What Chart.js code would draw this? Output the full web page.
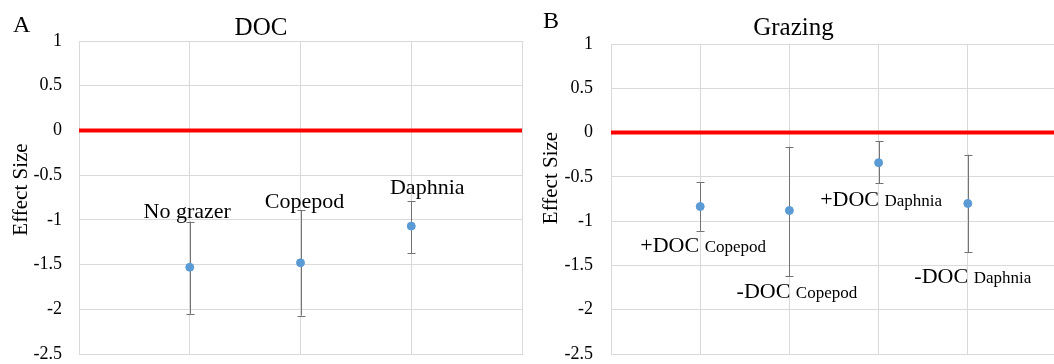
<!DOCTYPE html>
<html>
<head>
<meta charset="utf-8">
<script src="https://cdn.jsdelivr.net/npm/chart.js@4.4.0/dist/chart.umd.min.js"></script>
<style>
    html, body { margin: 0; padding: 0; background: #fff; overflow: hidden; }
    #wrap { display: flex; width: 1054px; height: 364px; overflow: hidden; }
    #panelA { width: 530px; height: 364px; flex: none; }
    #panelB { width: 527px; height: 364px; flex: none; }
</style>
</head>
<body>
<div id="wrap">
    <div id="panelA"><canvas id="docChart"></canvas></div>
    <div id="panelB"><canvas id="grazingChart"></canvas></div>
</div>
<script>
// Panel A - DOC
const docCategories = ['No grazer', 'Copepod', 'Daphnia'];
const docEffect = [-1.53, -1.48, -1.07];
const docUpper = [-1.02, -0.89, -0.79];
const docLower = [-2.05, -2.07, -1.37];

// Panel B - Grazing
const grazingTreatments = ['+DOC', '-DOC', '+DOC', '-DOC'];
const grazingGrazers = ['Copepod', 'Copepod', 'Daphnia', 'Daphnia'];
const grazingEffect = [-0.835, -0.88, -0.34, -0.80];
const grazingUpper = [-0.56, -0.16, -0.10, -0.25];
const grazingLower = [-1.11, -1.62, -0.57, -1.35];

const yMin = -2.5;
const yMax = 1;
const yStep = 0.5;
const yTitle = 'Effect Size';

const SERIF = '"Liberation Serif"';
const GRID = '#d9d9d9';
const DOT = '#5b9bd5';
const BAR = '#737373';

// label placement (pixels, relative to the point x and the whisker end)
const docLabelPos = [
    { dx: -2.5, dy: -4, end: 'upper' },
    { dx: 4, dy: -2, end: 'upper' },
    { dx: 16, dy: -7, end: 'upper' },
];
const grazingLabelPos = [
    { dx: 3, dy: 21, end: 'lower' },
    { dx: 7.5, dy: 22, end: 'lower' },
    { dx: 2.5, dy: 23, end: 'lower' },
    { dx: 5, dy: 31, end: 'lower' },
];

const errorBarPlugin = {
    id: 'errorBars',
    beforeDatasetsDraw(chart, args, opts) {
        const { ctx, scales: { x, y } } = chart;
        ctx.save();
        ctx.strokeStyle = BAR;
        ctx.lineWidth = 1;
        opts.upper.forEach((up, i) => {
            const px = Math.round(x.getPixelForValue(i + 1)) + 0.5;
            const yTop = y.getPixelForValue(up);
            const yBot = y.getPixelForValue(opts.lower[i]);
            ctx.beginPath();
            ctx.moveTo(px, yTop);
            ctx.lineTo(px, yBot);
            ctx.moveTo(px - 4, Math.round(yTop) + 0.5);
            ctx.lineTo(px + 4, Math.round(yTop) + 0.5);
            ctx.moveTo(px - 4, Math.round(yBot) + 0.5);
            ctx.lineTo(px + 4, Math.round(yBot) + 0.5);
            ctx.stroke();
        });
        ctx.restore();
    },
    afterDatasetsDraw(chart, args, opts) {
        const { ctx, scales: { x, y } } = chart;
        ctx.save();
        ctx.fillStyle = '#000';
        ctx.textBaseline = 'alphabetic';
        ctx.textAlign = 'left';
        opts.labels.forEach((parts, i) => {
            const pos = opts.labelPos[i];
            const anchorY = y.getPixelForValue(pos.end === 'upper' ? opts.upper[i] : opts.lower[i]);
            let width = 0;
            parts.forEach(p => {
                ctx.font = p.size + 'px ' + SERIF;
                width += ctx.measureText(p.text).width;
            });
            let cx = x.getPixelForValue(i + 1) + pos.dx - width / 2;
            parts.forEach(p => {
                ctx.font = p.size + 'px ' + SERIF;
                ctx.fillText(p.text, cx, anchorY + pos.dy);
                cx += ctx.measureText(p.text).width;
            });
        });

        // panel letter
        ctx.font = '24px ' + SERIF;
        ctx.fillText(opts.letter, 13, opts.letterY);

        // y axis title (sits a bit above the axis middle in the original)
        ctx.font = '21px ' + SERIF;
        ctx.textAlign = 'center';
        ctx.translate(27, opts.yTitleY);
        ctx.rotate(-Math.PI / 2);
        ctx.fillText(yTitle, 0, 0);
        ctx.restore();
    }
};

function makeChart(canvasId, cfg) {
    const points = cfg.effect.map((v, i) => ({ x: i + 1, y: v }));
    const xMax = cfg.effect.length + 1;
    return new Chart(document.getElementById(canvasId).getContext('2d'), {
        type: 'scatter',
        data: {
            datasets: [
                {
                    type: 'line',
                    data: [{ x: 0, y: 0 }, { x: xMax, y: 0 }],
                    borderColor: '#ff0000',
                    borderWidth: 4,
                    pointRadius: 0,
                    order: 2,
                },
                {
                    data: points,
                    backgroundColor: DOT,
                    borderColor: DOT,
                    pointRadius: 4,
                    order: 1,
                }
            ]
        },
        options: {
            responsive: true,
            maintainAspectRatio: false,
            animation: false,
            events: [],
            layout: { autoPadding: false, padding: { top: 0, left: 0, right: cfg.padRight, bottom: 10 } },
            plugins: {
                legend: { display: false },
                tooltip: { enabled: false },
                title: {
                    display: true,
                    text: cfg.title,
                    color: '#000',
                    font: { family: SERIF, size: 25, weight: 'normal' },
                    padding: { top: 13, bottom: cfg.titleGap },
                },
                errorBars: {
                    upper: cfg.upper,
                    lower: cfg.lower,
                    labels: cfg.labels,
                    labelPos: cfg.labelPos,
                    letter: cfg.letter,
                    letterY: cfg.letterY,
                    yTitleY: cfg.yTitleY,
                }
            },
            scales: {
                x: {
                    type: 'linear',
                    min: 0,
                    max: xMax,
                    ticks: { display: false, stepSize: 1 },
                    grid: { color: GRID, drawTicks: false },
                    border: { color: GRID },
                    afterFit: s => { s.height = 0; },
                },
                y: {
                    min: yMin,
                    max: yMax,
                    ticks: {
                        stepSize: yStep,
                        color: '#000',
                        padding: cfg.tickPad,
                        font: { family: SERIF, size: 18 },
                        callback: v => String(v),
                    },
                    grid: { color: GRID, drawTicks: false },
                    border: { color: GRID },
                    afterFit: s => {
                        s.width = cfg.axisWidth;
                        s.paddingTop = 0;
                        s.paddingBottom = 0;
                    },
                }
            }
        },
        plugins: [errorBarPlugin]
    });
}

makeChart('docChart', {
    title: 'DOC',
    letter: 'A',
    letterY: 32,
    yTitleY: 189.5,
    effect: docEffect,
    upper: docUpper,
    lower: docLower,
    labels: docCategories.map(c => [{ text: c, size: 22 }]),
    labelPos: docLabelPos,
    padRight: 8,
    titleGap: -2,
    axisWidth: 79,
    tickPad: 17,
});

makeChart('grazingChart', {
    title: 'Grazing',
    letter: 'B',
    letterY: 28,
    yTitleY: 178,
    effect: grazingEffect,
    upper: grazingUpper,
    lower: grazingLower,
    labels: grazingTreatments.map((t, i) => [
        { text: t + ' ', size: 22 },
        { text: grazingGrazers[i], size: 17 },
    ]),
    labelPos: grazingLabelPos,
    padRight: 0,
    titleGap: 1,
    axisWidth: 81,
    tickPad: 18,
});
</script>
</body>
</html>
